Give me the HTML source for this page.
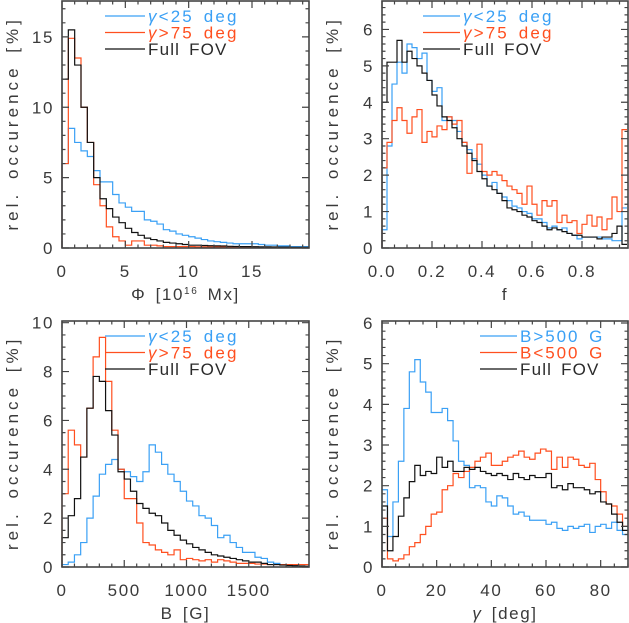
<!DOCTYPE html>
<html><head><meta charset="utf-8">
<style>
html,body{margin:0;padding:0;background:#fff;}
svg{display:block;font-family:"Liberation Sans",sans-serif;}
text{letter-spacing:1.6px;word-spacing:3px;}
</style></head>
<body>
<svg id="fig" width="629" height="623" viewBox="0 0 629 623" xmlns="http://www.w3.org/2000/svg"></svg>
<script>
// ---- Panel 1: flux Phi (bin width 0.5, 10^16 Mx)
const phiBinWidth = 0.5;
const phiBlue = [6,8.5,7.5,6.9,6.5,5.5,4.7,4.7,3.8,3.2,2.9,2.6,2.6,2.0,1.9,1.7,1.3,1.2,1.0,0.9,0.8,0.7,0.6,0.5,0.45,0.4,0.35,0.3,0.3,0.3,0.3,0.25,0.2,0.2,0.15,0.15,0.1,0.1,0.1];
const phiRed = [6,14.9,13.5,10,7.5,4.5,3,1.5,0.8,0.5,0.2,0.5,0.5,0.2,0.2,0.15,0.1,0.1,0.1,0.1,0.1,0.08,0.08,0.08,0.06,0.06,0.06,0.05,0.05,0.05,0.05,0.05,0.04,0.04,0.04,0.03,0.03,0.03,0.03];
const phiBlack = [12,15.5,13,10,7.5,5,3.5,2.8,2.2,1.8,1.4,1.1,0.9,0.7,0.6,0.5,0.4,0.35,0.3,0.25,0.2,0.2,0.18,0.16,0.15,0.14,0.12,0.11,0.1,0.1,0.09,0.08,0.08,0.07,0.06,0.06,0.05,0.05,0.05];
// ---- Panel 2: filling factor f (bin width 0.02)
const fBinWidth = 0.02;
const fBlue = [0.5,2.8,4.5,5.1,4.8,5.6,5.5,5.2,5.35,4.6,4.3,4.4,3.5,3.6,3.5,3.2,2.9,2.7,2.45,2.3,2.0,1.7,1.8,1.5,1.4,1.3,1.15,1.1,1.0,0.95,0.8,0.8,0.7,0.55,0.6,0.5,0.55,0.4,0.35,0.25,0.3,0.3,0.3,0.3,0.25,0.25,0.2,0.2,1.1];
const fRed = [2.2,2.9,3.5,3.85,3.5,3.15,3.6,3.8,2.9,3.2,3.05,3.35,3.25,3.6,3.4,3.5,2.9,2.05,2.4,2.85,2.1,2.0,2.1,2.0,1.85,1.7,1.6,1.5,1.2,1.7,1.2,0.9,1.3,1.15,1.3,0.7,0.9,0.7,0.75,0.4,0.65,0.9,0.6,0.85,0.5,0.8,1.4,1.0,3.25];
const fBlack = [4.0,5.1,5.1,5.7,5.1,5.4,5.2,5.0,4.8,4.6,4.2,3.9,3.6,3.5,3.3,3.0,2.8,2.6,2.4,2.1,1.9,1.7,1.6,1.5,1.3,1.1,1.05,1.0,0.9,0.85,0.75,0.7,0.6,0.5,0.55,0.5,0.45,0.4,0.35,0.35,0.3,0.3,0.3,0.25,0.3,0.3,0.4,0.6,0.1];
// ---- Panel 3: field strength B (bin width 50 G)
const bBinWidth = 50;
const bBlue = [0.1,0.2,0.5,1.0,2.0,2.9,3.8,4.2,4.4,4.0,3.9,3.7,3.5,3.9,5.0,4.7,4.2,3.8,3.5,3.1,2.7,2.5,2.1,2.0,1.7,1.2,1.3,1.0,0.8,0.6,0.6,0.4,0.35,0.2,0.15,0.1,0.1,0.05,0.02,0.02];
const bRed = [3.0,5.6,5.0,4.5,6.5,8.6,9.4,7.6,5.6,4.0,2.8,2.8,1.8,1.0,0.9,0.7,0.6,0.5,0.7,0.3,0.35,0.3,0.25,0.3,0.2,0.3,0.25,0.2,0.15,0.15,0.15,0.12,0.12,0.1,0.1,0.1,0.1,0.1,0.1,0.1];
const bBlack = [1.2,2.1,2.8,4.5,6.5,7.8,7.6,6.4,5.4,3.9,3.6,3.1,2.6,2.4,2.2,2.1,1.8,1.5,1.3,1.1,0.95,0.8,0.7,0.6,0.5,0.45,0.4,0.35,0.3,0.25,0.2,0.2,0.15,0.1,0.1,0.08,0.06,0.05,0.04,0.03];
// ---- Panel 4: inclination gamma (bin width 2 deg)
const gBinWidth = 2;
const gBlue = [1.9,0.75,1.6,2.6,3.9,4.8,5.1,4.55,4.3,3.8,3.8,3.9,3.6,3.1,2.6,2.5,1.95,2.0,1.95,1.6,1.5,1.75,1.7,1.5,1.3,1.35,1.25,1.15,1.15,1.15,1.05,1.1,0.95,0.9,1.0,0.95,1.0,1.05,0.85,1.0,1.05,0.95,1.1,0.9,0.8];
const gRed = [1.2,0.2,0.15,0.2,0.3,0.5,0.6,0.8,1.0,1.3,1.35,1.9,2.0,2.3,2.2,2.35,2.45,2.6,2.7,2.8,2.5,2.5,2.6,2.7,2.75,2.85,2.7,2.65,2.8,2.9,2.85,2.4,2.7,2.45,2.7,2.65,2.5,2.45,2.55,2.15,1.85,1.55,1.5,1.3,1.0];
const gBlack = [1.5,0.4,0.75,1.25,1.7,2.1,2.5,2.25,2.35,2.3,2.7,2.45,2.6,2.35,2.35,2.45,2.4,2.45,2.35,2.3,2.25,2.3,2.25,2.15,2.3,2.2,2.15,2.25,2.2,2.2,2.3,1.95,2.0,1.9,2.05,1.95,1.95,1.9,1.8,1.85,1.6,1.55,1.3,1.1,0.9];
// ---- tick labels
const phiXTicks = ["0","5","10","15"];
const phiYTicks = ["0","5","10","15"];
const fXTicks = ["0.0","0.2","0.4","0.6","0.8"];
const fYTicks = ["0","1","2","3","4","5","6"];
const bXTicks = ["0","500","1000","1500"];
const bYTicks = ["0","2","4","6","8","10"];
const gXTicks = ["0","20","40","60","80"];
const gYTicks = ["0","1","2","3","4","5","6"];

const BLUE="#3aa0f5", RED="#ff4f1f", BLACK="#111", AX="#444";
const NS="http://www.w3.org/2000/svg";
const svg=document.getElementById('fig');
function mk(tag,attrs,parent){const e=document.createElementNS(NS,tag);for(const k in attrs)e.setAttribute(k,attrs[k]);(parent||svg).appendChild(e);return e;}

function panel(cfg){
  const g=mk('g',{});
  
  
  const L=cfg.box[0],T=cfg.box[1],R=cfg.box[2],B=cfg.box[3];
  const xs=v=>L+(v-cfg.xmin)/(cfg.xmax-cfg.xmin)*(R-L);
  const ys=v=>B-(v-cfg.ymin)/(cfg.ymax-cfg.ymin)*(B-T);
  cfg.series.forEach(s=>{
    let d='M'+xs(0)+','+ys(0);
    s.data.forEach((v,i)=>{
      const x0=Math.min(xs(i*cfg.bw),R), x1=Math.min(xs((i+1)*cfg.bw),R);
      const y=Math.max(ys(v),T);
      d+=' L'+x0.toFixed(2)+','+y.toFixed(2)+' L'+x1.toFixed(2)+','+y.toFixed(2);
    });
    const p=mk('path',{d:d,fill:'none',stroke:s.color,'stroke-width':1.2,'stroke-linejoin':'miter'},g);
    
    
  });
  const box=mk('rect',{x:L,y:T,width:R-L,height:B-T,fill:'none',stroke:AX,'stroke-width':1.6},g);
  
  
  let tk='';
  for(let v=cfg.xmin;v<=cfg.xmax+1e-9;v+=cfg.xminor){
    const x=xs(v); const major=Math.abs(v/cfg.xmajor-Math.round(v/cfg.xmajor))<1e-6; const len=major?7:3.5;
    tk+=`M${x},${B} v${-len} M${x},${T} v${len} `;
  }
  for(let v=cfg.ymin;v<=cfg.ymax+1e-9;v+=cfg.yminor){
    const y=ys(v); const major=Math.abs(v/cfg.ymajor-Math.round(v/cfg.ymajor))<1e-6; const len=major?7:3.5;
    tk+=`M${L},${y} h${len} M${R},${y} h${-len} `;
  }
  mk('path',{d:tk,stroke:AX,'stroke-width':1.2,fill:'none'},g);
  cfg.xticks.forEach((t,i)=>{
    const e=mk('text',{x:xs(i*cfg.xmajor),y:B+29,'text-anchor':'middle','font-size':17,fill:'#3a3a3a'},g);
    e.textContent=t;
    
    
  });
  cfg.yticks.forEach((t,i)=>{
    const e=mk('text',{x:L-8,y:ys(i*cfg.ymajor)+6,'text-anchor':'end','font-size':17,fill:'#3a3a3a'},g);
    e.textContent=t;
    
    
  });
  const xt=mk('text',{x:(L+R)/2,y:B+52,'text-anchor':'middle','font-size':17,fill:'#3a3a3a'},g);
  xt.innerHTML=cfg.xtitle;
  
  
  const yc=(T+B)/2, yx=cfg.box[0]-44;
  const yt=mk('text',{x:yx,y:yc,'text-anchor':'middle','font-size':17,fill:'#3a3a3a',textLength:212,lengthAdjust:'spacing',transform:`rotate(-90 ${yx} ${yc})`},g);
  yt.textContent='rel. occurence [%]';
  
  
  cfg.series.forEach((s,i)=>{
    const y=T+15+i*16.5;
    const ln=mk('line',{x1:cfg.leg[0],x2:cfg.leg[1],y1:y,y2:y,stroke:s.color,'stroke-width':1.3},g);
    
    
    const tx=mk('text',{x:cfg.leg[1]+3,y:y+6,'font-size':17,fill:s.color===BLACK?'#2a2a2a':s.color,textLength:s.tl,lengthAdjust:'spacing'},g);
    tx.innerHTML=s.label;
    
    
  });
}
const gLt='<tspan font-style="italic">γ</tspan>&lt;25 deg', gGt='<tspan font-style="italic">γ</tspan>&gt;75 deg';
panel({name:'panel-flux',box:[62,1,309,248],xmin:0,xmax:19.5,ymin:0,ymax:17.55,bw:phiBinWidth,xmajor:5,xminor:1,ymajor:5,yminor:1,
  xticks:phiXTicks,yticks:phiYTicks,xtitle:'Φ [10<tspan font-size="10" dy="-6">16</tspan><tspan dy="6"> Mx]</tspan>',leg:[105,145],
  series:[{id:'blue-series',color:BLUE,data:phiBlue,label:gLt,tl:90},{id:'red-series',color:RED,data:phiRed,label:gGt,tl:90},{id:'black-series',color:BLACK,data:phiBlack,label:'Full FOV',tl:80}]});
panel({name:'panel-filling-factor',box:[382,1,628,248],xmin:0,xmax:0.984,ymin:0,ymax:6.78,bw:fBinWidth,xmajor:0.2,xminor:0.05,ymajor:1,yminor:0.2,
  xticks:fXTicks,yticks:fYTicks,xtitle:'f',leg:[423,460],
  series:[{id:'blue-series',color:BLUE,data:fBlue,label:gLt,tl:90},{id:'red-series',color:RED,data:fRed,label:gGt,tl:90},{id:'black-series',color:BLACK,data:fBlack,label:'Full FOV',tl:80}]});
panel({name:'panel-field-strength',box:[62,321,309,567],xmin:0,xmax:1984,ymin:0,ymax:10.07,bw:bBinWidth,xmajor:500,xminor:100,ymajor:2,yminor:0.5,
  xticks:bXTicks,yticks:bYTicks,xtitle:'B [G]',leg:[105,145],
  series:[{id:'blue-series',color:BLUE,data:bBlue,label:gLt,tl:90},{id:'red-series',color:RED,data:bRed,label:gGt,tl:90},{id:'black-series',color:BLACK,data:bBlack,label:'Full FOV',tl:80}]});
panel({name:'panel-inclination',box:[382,321,628,567],xmin:0,xmax:90,ymin:0,ymax:6.05,bw:gBinWidth,xmajor:20,xminor:5,ymajor:1,yminor:0.2,
  xticks:gXTicks,yticks:gYTicks,xtitle:'<tspan font-style="italic">γ</tspan> [deg]',leg:[480,517],
  series:[{id:'blue-series',color:BLUE,data:gBlue,label:'B&gt;500 G',tl:84},{id:'red-series',color:RED,data:gRed,label:'B&lt;500 G',tl:84},{id:'black-series',color:BLACK,data:gBlack,label:'Full FOV',tl:80}]});
</script>
</body></html>
